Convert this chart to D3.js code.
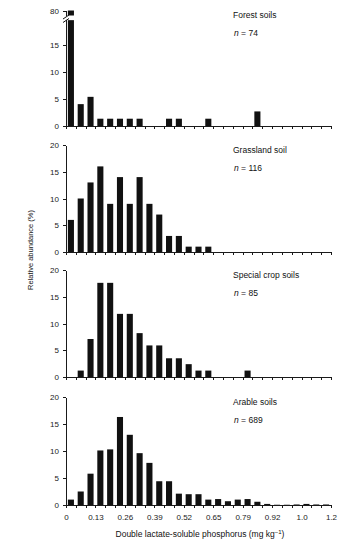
<!DOCTYPE html>
<html>
<head>
<meta charset="utf-8">
<script src="https://cdn.jsdelivr.net/npm/d3@7"></script>
<style>
  html, body { margin: 0; padding: 0; background: #fff; }
  svg { display: block; font-family: "Liberation Sans", Arial, sans-serif; }
  .axis path, .axis line { stroke: #1a1a1a; stroke-width: 1; shape-rendering: crispEdges; }
  .axis text { fill: #1a1a1a; font-size: 8px; }
</style>
</head>
<body>
<svg id="chart" width="338" height="547"></svg>
<script>
/* Relative abundance of double-lactate-soluble P, four land uses, 27 bins each */
const BINS = d3.range(27);
const xTickLabels = ["0", "0.13", "0.26", "0.39", "0.52", "0.65", "0.79", "0.92", "1.0", "1.2"];
const yTicks = [0, 5, 10, 15, 20];

const forestSoils = [80, 4.05, 5.4, 1.35, 1.35, 1.35, 1.35, 1.35, 0, 0, 1.35, 1.35, 0, 0, 1.35,
  0, 0, 0, 0, 2.7, 0, 0, 0, 0, 0, 0, 0];
const grasslandSoil = [6, 10, 13, 16, 9, 14, 9, 14, 9, 7, 3, 3, 1, 1, 1,
  0, 0, 0, 0, 0, 0, 0, 0, 0, 0, 0, 0];
const specialCropSoils = [0, 1.2, 7.1, 17.6, 17.6, 11.8, 11.8, 8.2, 5.9, 5.9, 3.5, 3.5, 2.4, 1.2, 1.2,
  0, 0, 0, 1.2, 0, 0, 0, 0, 0, 0, 0, 0];
const arableSoils = [1.0, 2.5, 5.8, 10.1, 10.3, 16.3, 13.0, 9.6, 7.8, 4.4, 4.4, 2.1, 2.0, 2.0, 1.0,
  1.1, 0.7, 1.0, 1.1, 0.6, 0.2, 0.05, 0.05, 0.1, 0.2, 0.1, 0.1];

const panelNames = ["Forest soils", "Grassland soil", "Special crop soils", "Arable soils"];
const panelN = [74, 116, 85, 689];
const panelValues = [forestSoils, grasslandSoil, specialCropSoils, arableSoils];

const svg = d3.select("#chart");
const X0 = 66, X1 = 331;
const INK = "#111";

// bars sit in bands, ticks sit on the band edges
const xBand = d3.scaleBand().domain(BINS).range([X0, X1]).paddingInner(0.38).paddingOuter(0.19);
const xEdge = d3.scaleLinear().domain([0, BINS.length]).range([X0, X1]);

// [zero line y, 20 % line y]; the forest panel is special (broken axis)
const frames = [null, [252, 145], [377, 270], [505, 397]];

function xAxis(g, y0, labelled) {
  g.attr("class", "axis").attr("transform", `translate(0,${y0})`)
    .call(d3.axisBottom(xEdge).tickValues(d3.range(BINS.length + 1)).tickSize(3).tickSizeOuter(0)
      .tickPadding(6)
      .tickFormat((d) => labelled && d % 3 === 0 ? xTickLabels[d / 3] : ""));
}

function panelLabel(i, yTop) {
  svg.append("text").attr("x", 233).attr("y", yTop + 8).attr("font-size", 8.5).attr("fill", INK)
    .text(panelNames[i]);
  const t = svg.append("text").attr("x", 234).attr("y", yTop + 26).attr("font-size", 8.5).attr("fill", INK);
  t.append("tspan").attr("font-style", "italic").text("n");
  t.append("tspan").text(" = " + panelN[i]);
}

/* ---- panel 1: forest, y axis broken between ~19.5 and 77 ---- */
(function () {
  const y = d3.scaleLinear().domain([0, 15]).range([126, 45]);
  const yHi = d3.scaleLinear().domain([77, 80]).range([15.5, 10.5]);
  const CUT = 19.6;
  const g = svg.append("g");
  g.selectAll("rect.lo").data(forestSoils.map((v, i) => ({ v, i })).filter((d) => d.v > 0))
    .enter().append("rect").attr("class", "lo")
    .attr("x", (d) => xBand(d.i)).attr("width", xBand.bandwidth())
    .attr("y", (d) => y(Math.min(d.v, CUT))).attr("height", (d) => y(0) - y(Math.min(d.v, CUT)))
    .attr("fill", INK);
  g.selectAll("rect.hi").data(forestSoils.map((v, i) => ({ v, i })).filter((d) => d.v >= 77))
    .enter().append("rect").attr("class", "hi")
    .attr("x", (d) => xBand(d.i)).attr("width", xBand.bandwidth())
    .attr("y", (d) => yHi(d.v)).attr("height", (d) => yHi(77) - yHi(d.v))
    .attr("fill", INK);

  svg.append("g").call(xAxis, y(0), false);
  svg.append("g").attr("class", "axis").attr("transform", `translate(${X0},0)`)
    .call(d3.axisLeft(y).tickValues([0, 5, 10, 15]).tickSize(3).tickSizeOuter(0).tickPadding(4))
    .call((a) => a.select(".domain").attr("d", `M0,${y(0)}V${y(CUT)}`));
  svg.append("g").attr("class", "axis").attr("transform", `translate(${X0},0)`)
    .call(d3.axisLeft(yHi).tickValues([80]).tickFormat(d3.format("d")).tickSize(3).tickSizeOuter(0).tickPadding(4))
    .call((a) => a.select(".domain").attr("d", `M0,${yHi(80)}V${yHi(77)}`));
  // break marks
  [0, 3.5].forEach((o) => svg.append("line")
    .attr("x1", X0 - 3).attr("y1", 19 + o).attr("x2", X0 + 3).attr("y2", 15 + o)
    .attr("stroke", INK).attr("stroke-width", 1));
  panelLabel(0, 10);
})();

/* ---- panels 2-4 ---- */
[1, 2, 3].forEach((p) => {
  const [yZero, yTop] = frames[p];
  const y = d3.scaleLinear().domain([0, 20]).range([yZero, yTop]);
  const data = panelValues[p].map((v, i) => ({ v, i })).filter((d) => d.v > 0);
  svg.append("g").selectAll("rect").data(data).enter().append("rect")
    .attr("x", (d) => xBand(d.i)).attr("width", xBand.bandwidth())
    .attr("y", (d) => y(d.v)).attr("height", (d) => y(0) - y(d.v))
    .attr("fill", INK);
  svg.append("g").call(xAxis, yZero, p === 3);
  svg.append("g").attr("class", "axis").attr("transform", `translate(${X0},0)`)
    .call(d3.axisLeft(y).tickValues(yTicks).tickSize(3).tickSizeOuter(0).tickPadding(4));
  panelLabel(p, yTop);
});

/* ---- axis titles ---- */
const xt = svg.append("text").attr("x", 200).attr("y", 537).attr("text-anchor", "middle")
  .attr("font-size", 8.5).attr("fill", INK).text("Double lactate-soluble phosphorus (mg kg");
xt.append("tspan").attr("font-size", 6).attr("dy", -3.5).text("\u22121");
xt.append("tspan").attr("dy", 3.5).text(")");

svg.append("text").attr("transform", "translate(33,250) rotate(-90)").attr("text-anchor", "middle")
  .attr("font-size", 7.5).attr("fill", INK).text("Relative abundance (%)");
</script>
</body>
</html>
